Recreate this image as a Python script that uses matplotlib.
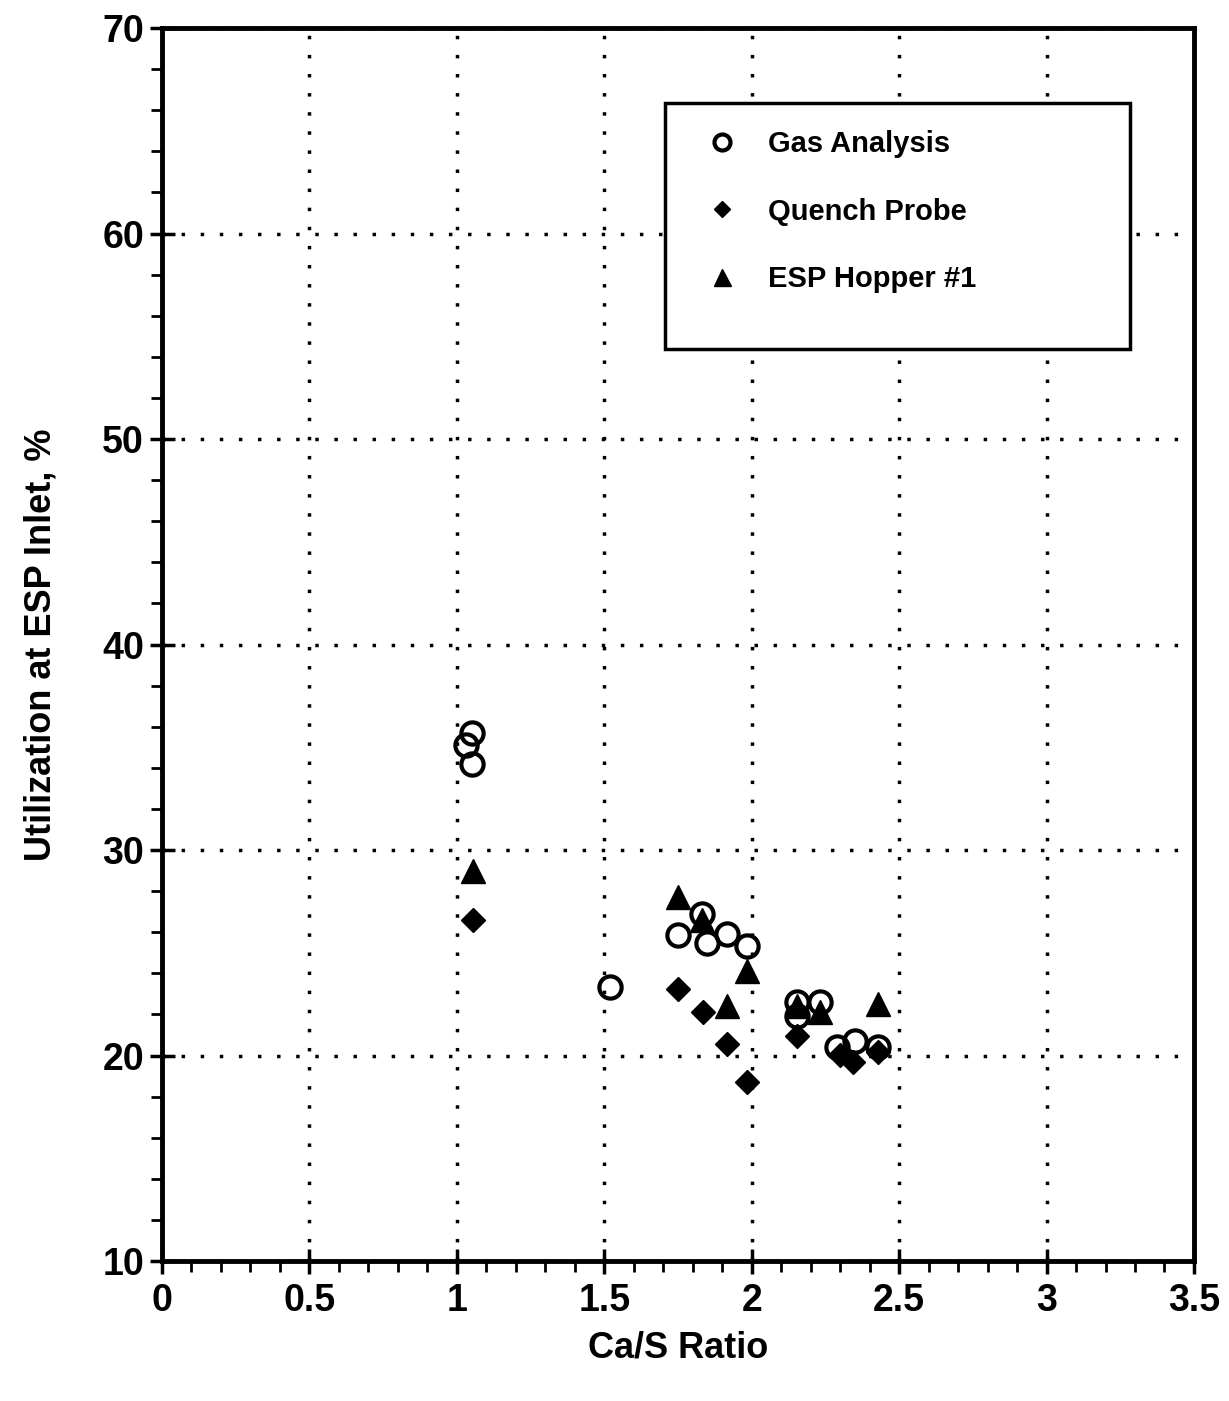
import matplotlib.pyplot as plt
from matplotlib.patches import Rectangle
from matplotlib.ticker import MultipleLocator

plt.rcParams['font.family'] = ['Liberation Sans', 'DejaVu Sans']
plt.rcParams['font.weight'] = 'bold'

# Gas Analysis (open circles)
gas_x = [1.05, 1.03, 1.05, 1.52, 1.75, 1.83, 1.85, 1.915, 1.985,
         2.155, 2.155, 2.23, 2.29, 2.35, 2.43]
gas_y = [35.7, 35.1, 34.2, 23.35, 25.85, 26.9, 25.5, 25.9, 25.35,
         22.6, 21.9, 22.6, 20.4, 20.7, 20.4]

# Quench Probe (filled diamonds)
quench_x = [1.055, 1.75, 1.835, 1.915, 1.985, 2.155, 2.30, 2.345, 2.43]
quench_y = [26.6, 23.25, 22.1, 20.55, 18.7, 20.95, 20.05, 19.7, 20.15]

# ESP Hopper #1 (filled triangles)
hopper_x = [1.055, 1.75, 1.83, 1.915, 1.985, 2.155, 2.23, 2.43]
hopper_y = [29.0, 27.7, 26.6, 22.4, 24.1, 22.4, 22.1, 22.5]

fig = plt.figure(figsize=(12.29, 14.01), dpi=100)
ax = fig.add_axes([0.1318, 0.0999, 0.8397, 0.8801])

ax.plot(gas_x, gas_y, linestyle='none', marker='o', markersize=16,
        markerfacecolor='none', markeredgecolor='black', markeredgewidth=3,
        label='Gas Analysis', zorder=3)
ax.plot(quench_x, quench_y, linestyle='none', marker='D', markersize=12,
        color='black', label='Quench Probe', zorder=3)
ax.plot(hopper_x, hopper_y, linestyle='none', marker='^', markersize=17,
        color='black', label='ESP Hopper #1', zorder=3)

ax.set_xlim(0, 3.5)
ax.set_ylim(10, 70)
ax.xaxis.set_major_locator(MultipleLocator(0.5))
ax.xaxis.set_minor_locator(MultipleLocator(0.1))
ax.yaxis.set_major_locator(MultipleLocator(10))
ax.yaxis.set_minor_locator(MultipleLocator(2))
ax.set_xticks([0, 0.5, 1, 1.5, 2, 2.5, 3, 3.5])
ax.set_xticklabels(['0', '0.5', '1', '1.5', '2', '2.5', '3', '3.5'])

ax.tick_params(which='major', direction='inout', length=18, width=2.5,
               labelsize=27)
ax.tick_params(axis='y', which='major', pad=4)
ax.tick_params(axis='x', which='major', pad=7)
ax.tick_params(which='minor', direction='out', length=8, width=2)
ax.tick_params(top=False, right=False)

for s in ax.spines.values():
    s.set_linewidth(3.5)

ax.grid(True, which='major', color='black', linestyle=(0, (1, 4.5)),
        linewidth=2.5)

ax.set_xlabel('Ca/S Ratio', fontsize=26, fontweight='bold', labelpad=8)
ax.set_ylabel('Utilization at ESP Inlet, %', fontsize=26, fontweight='bold',
              labelpad=31)

# legend box
ax.add_patch(Rectangle((0.487, 0.740), 0.451, 0.199, transform=ax.transAxes,
                       facecolor='white', edgecolor='black', linewidth=2.5,
                       zorder=4))
leg = ax.legend(loc='upper left', bbox_to_anchor=(0.517, 0.929),
                frameon=False, prop={'size': 21, 'weight': 'bold'},
                borderpad=0, labelspacing=1.35,
                handlelength=0.8, handletextpad=1.2, markerscale=0.72)
leg.set_zorder(5)

fig.savefig('out.png', dpi=100)
